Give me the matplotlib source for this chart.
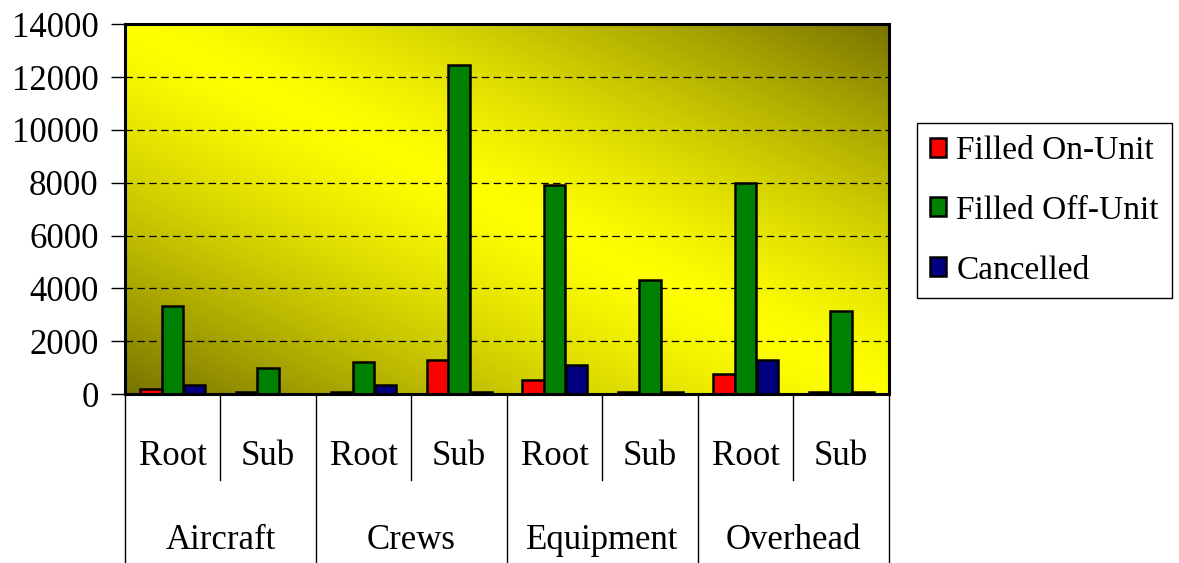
import numpy as np
import matplotlib.pyplot as plt
from matplotlib.transforms import blended_transform_factory

# data
groups = ['Aircraft', 'Crews', 'Equipment', 'Overhead']
subs = ['Root', 'Sub']
on_unit = [200, 70, 70, 1300, 550, 70, 750, 70]
off_unit = [3350, 980, 1200, 12450, 7900, 4300, 8000, 3150]
cancelled = [330, 0, 330, 70, 1100, 70, 1300, 70]
series = ['Filled On-Unit', 'Filled Off-Unit', 'Cancelled']
colors = ['#ff0000', '#008000', '#000080']

plt.rcParams['font.family'] = ['Liberation Serif', 'DejaVu Serif']
fs = 25

fig = plt.figure(figsize=(11.79, 5.63), dpi=100)
ax = fig.add_axes([0.106, 0.300, 0.648, 0.657])

# background gradient: bright along the anti-diagonal, olive at two corners
gx, gy = np.meshgrid(np.linspace(0, 1, 300), np.linspace(0, 1, 300))
t = np.abs(gx + gy - 1) ** 1.3
yellow = np.array([1.0, 1.0, 0.0])
olive = np.array([0.47, 0.45, 0.0])
img = yellow + (olive - yellow) * t[..., None]
ax.imshow(img, extent=[0, 1, 0, 1], transform=ax.transAxes, origin='lower',
          aspect='auto', zorder=0)

x = np.arange(len(on_unit))
w = 0.225
step = 0.228
for i, (vals, c) in enumerate(zip([on_unit, off_unit, cancelled], colors)):
    ax.bar(x + (i - 1) * step, vals, w, color=c, edgecolor='black', linewidth=1.8,
           label=series[i], zorder=3)

ax.set_xlim(-0.5, 7.5)
ax.set_ylim(0, 14000)
ax.set_yticks(range(0, 14001, 2000))
ax.yaxis.grid(True, linestyle=(0, (6, 3.5)), color='black', linewidth=0.9, zorder=1)
ax.tick_params(axis='y', labelsize=fs, length=10, width=1, direction='out', pad=9)
ax.set_xticks([])
for s in ax.spines.values():
    s.set_linewidth(2.2)
    s.set_zorder(4)

# two level category axis
tr = blended_transform_factory(ax.transData, ax.transAxes)
for k in range(len(x)):
    ax.text(k, -0.168, subs[k % 2], transform=tr, ha='center', va='center', fontsize=fs)
for k in range(len(groups)):
    ax.text(2 * k + 0.5, -0.397, groups[k], transform=tr, ha='center', va='center', fontsize=fs)
for k in range(len(x) + 1):
    bottom = -0.457 if k % 2 == 0 else -0.232
    ax.plot([k - 0.5, k - 0.5], [0, bottom], transform=tr, color='black',
            linewidth=1, clip_on=False)

fig.legend(loc='center left', bbox_to_anchor=(0.7778, 0.626), borderaxespad=0,
           fontsize=24, frameon=True, fancybox=False, edgecolor='black', framealpha=1,
           handlelength=0.5, handleheight=0.5, handletextpad=0.3,
           labelspacing=0.88, borderpad=0.38)

fig.savefig('out.png', dpi=100)
